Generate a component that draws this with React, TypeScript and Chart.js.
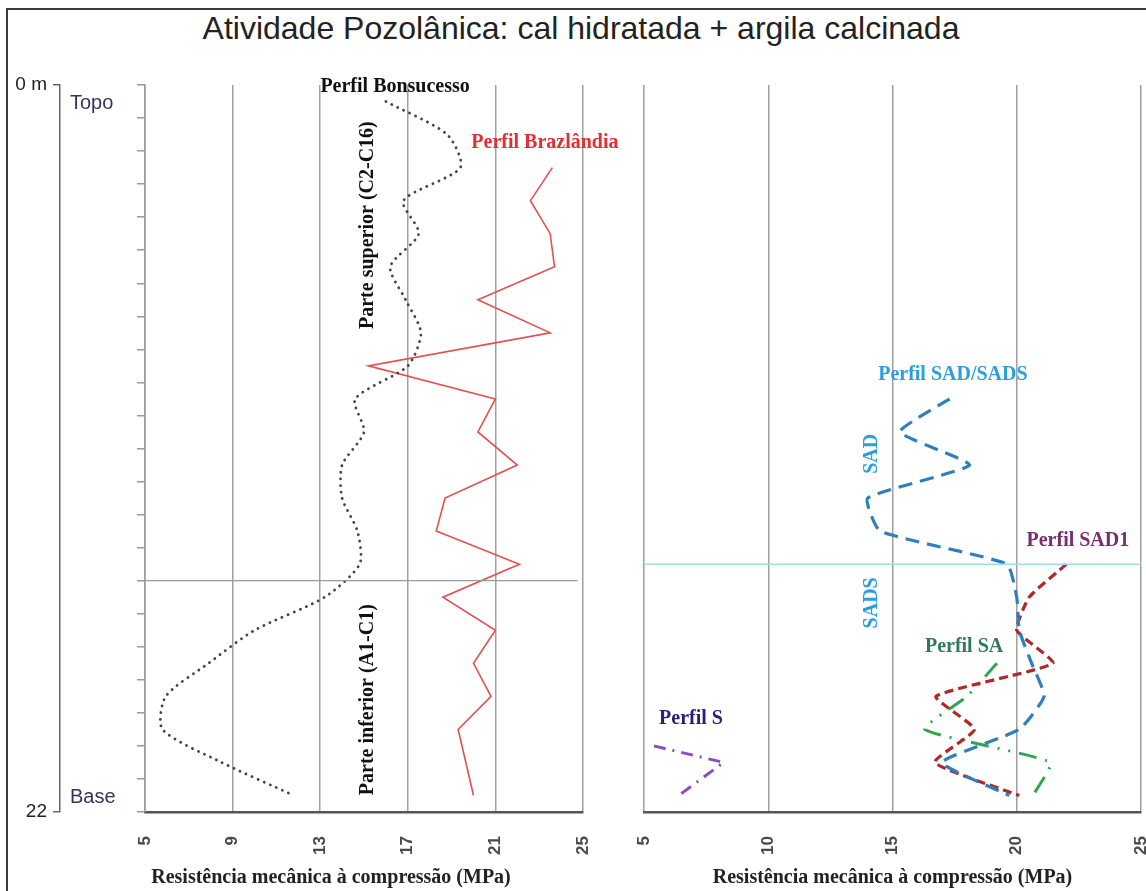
import React, { useEffect, useRef } from 'react';
import { Chart, registerables } from 'chart.js';

Chart.register(...registerables);

const TITLE = 'Atividade Pozolânica: cal hidratada + argila calcinada';
const X_TITLE = 'Resistência mecânica à compressão (MPa)';

// ---- Left panel: depth (m) vs strength (MPa)
const bonsucessoDepth = [0.5, 1.5, 2.5, 3.5, 4.5, 5.5, 6.5, 7.5, 8.5, 9.5, 10.5, 11.5, 12.5, 13.5, 14.5, 15.5, 16.5, 17.5, 18.5, 19.5, 20.5, 21.5];
const bonsucessoMPa = [16.0, 18.8, 19.4, 16.8, 17.5, 16.2, 16.9, 17.6, 17.0, 14.6, 15.0, 14.0, 14.0, 14.7, 14.8, 13.2, 10.0, 7.9, 5.95, 5.8, 8.5, 11.8];

const brazlandiaDepth = [2.5, 3.5, 4.5, 5.5, 6.5, 7.5, 8.5, 9.5, 10.5, 11.5, 12.5, 13.5, 14.5, 15.5, 16.5, 17.5, 18.5, 19.5, 21.5];
const brazlandiaMPa = [23.6, 22.6, 23.5, 23.7, 20.2, 23.5, 15.2, 21.0, 20.2, 22.0, 18.7, 18.3, 22.1, 18.6, 21.0, 20.0, 20.8, 19.3, 20.0];

const leftBoundaryDepth = [15.0, 15.0];
const leftBoundaryMPa = [5, 24.75];

// ---- Right panel
const sadDepth = [9.5, 10.5, 11.5, 12.5, 13.5, 14.5, 15.5, 16.5, 17.5, 18.5, 19.5, 20.5, 21.5];
const sadMPa = [17.3, 15.3, 18.1, 14.0, 14.5, 19.6, 20.0, 20.1, 20.6, 21.1, 20.1, 17.0, 19.7];

const sad1Depth = [14.5, 15.5, 16.5, 17.5, 18.5, 19.5, 20.5, 21.5];
const sad1MPa = [22.0, 20.5, 20.0, 21.45, 16.75, 18.3, 16.7, 20.1];

const saDepth = [17.5, 18.5, 19.5, 20.5, 21.5];
const saMPa = [19.2, 18.0, 16.3, 21.35, 20.65];

const sDepth = [20.0, 20.5, 21.5];
const sMPa = [5.4, 8.2, 6.4];

const rightBoundaryDepth = [14.5, 14.5];
const rightBoundaryMPa = [5, 25];

const leftTicks = [5, 9, 13, 17, 21, 25];
const rightTicks = [5, 10, 15, 20, 25];
const depthTicks = [0, 22];

type Note = { text: string; x: number; y: number; color: string; size: number; rotate?: boolean };

const leftNotes: Note[] = [
  { text: 'Perfil Bonsucesso', x: 16.42, y: 0.06, color: '#111111', size: 20 },
  { text: 'Perfil Brazlândia', x: 23.26, y: 1.75, color: '#e03030', size: 20 },
  { text: 'Parte superior (C2-C16)', x: 15.18, y: 4.24, color: '#111111', size: 20, rotate: true },
  { text: 'Parte inferior (A1-C1)', x: 15.18, y: 18.6, color: '#111111', size: 20, rotate: true },
];

const rightNotes: Note[] = [
  { text: 'Perfil SAD/SADS', x: 17.43, y: 8.77, color: '#2a9ee0', size: 20 },
  { text: 'SAD', x: 14.18, y: 11.16, color: '#2a9ee0', size: 20, rotate: true },
  { text: 'SADS', x: 14.18, y: 15.67, color: '#2a9ee0', size: 20, rotate: true },
  { text: 'Perfil SAD1', x: 22.46, y: 13.8, color: '#7b2c6e', size: 20 },
  { text: 'Perfil SA', x: 17.88, y: 17.0, color: '#2b7b5c', size: 20 },
  { text: 'Perfil S', x: 6.89, y: 19.18, color: '#2a1f7a', size: 20 },
];

const pts = (vals: number[], depths: number[]) => vals.map((v, i) => ({ x: v, y: depths[i] }));

const SERIF = '"Liberation Serif", "Times New Roman", serif';
const SANS = '"Liberation Sans", Arial, sans-serif';

function notesPlugin(notes: Note[], extra?: (chart: any) => void) {
  return {
    id: 'notes',
    afterDraw(chart: any) {
      const { ctx, scales } = chart;
      notes.forEach((n) => {
        const px = scales.x.getPixelForValue(n.x);
        const py = scales.y.getPixelForValue(n.y);
        ctx.save();
        ctx.translate(px, py);
        if (n.rotate) ctx.rotate(-Math.PI / 2);
        ctx.font = `bold ${n.size}px ${SERIF}`;
        ctx.fillStyle = n.color;
        ctx.textAlign = 'center';
        ctx.textBaseline = 'middle';
        ctx.fillText(n.text, 0, 0);
        ctx.restore();
      });
      if (extra) extra(chart);
    },
  };
}

function xScale(ticks: number[], step: number, showTitle: boolean) {
  return {
    type: 'linear',
    min: ticks[0],
    max: ticks[ticks.length - 1],
    ticks: {
      stepSize: step,
      minRotation: 90,
      maxRotation: 90,
      padding: 24,
      color: '#4a4a4a',
      font: { family: SANS, size: 17, weight: 'bold' },
    },
    grid: {
      color: '#a0a0a0',
      lineWidth: 1.5,
      drawTicks: false,
    },
    border: { display: true, color: '#555', width: 2.5 },
    title: {
      display: showTitle,
      text: X_TITLE,
      color: '#222',
      font: { family: SERIF, size: 20, weight: 'bold' },
      padding: { top: 0, bottom: 1 },
    },
    afterFit: (s: any) => {
      s.height = 79;
    },
  };
}

function LeftPanel() {
  const ref = useRef<HTMLCanvasElement>(null);
  useEffect(() => {
    const chart = new Chart(ref.current as HTMLCanvasElement, {
      type: 'line',
      data: {
        datasets: [
          {
            label: 'Boundary',
            data: pts(leftBoundaryMPa, leftBoundaryDepth),
            borderColor: '#9a9a9a',
            borderWidth: 1.2,
            pointRadius: 0,
          },
          {
            label: 'Perfil Bonsucesso',
            data: pts(bonsucessoMPa, bonsucessoDepth),
            borderColor: '#444444',
            borderWidth: 2.8,
            borderDash: [0.1, 6.5],
            borderCapStyle: 'round',
            tension: 0.25,
            pointRadius: 0,
          },
          {
            label: 'Perfil Brazlândia',
            data: pts(brazlandiaMPa, brazlandiaDepth),
            borderColor: '#e2504f',
            borderWidth: 1.6,
            tension: 0,
            pointRadius: 0,
          },
        ],
      },
      options: {
        animation: false,
        responsive: false,
        layout: { padding: { left: 0, right: 77, top: 85, bottom: 0 } },
        plugins: { legend: { display: false }, tooltip: { enabled: false } },
        scales: {
          x: xScale(leftTicks, 4, false) as any,
          y: {
            type: 'linear',
            position: 'left',
            weight: 0,
            reverse: true,
            min: 0,
            max: 22,
            ticks: { stepSize: 1, callback: () => '' },
            grid: { drawOnChartArea: false, drawTicks: true, tickLength: 8, color: '#9a9a9a', lineWidth: 1.5 },
            border: { display: true, color: '#9a9a9a', width: 1.5 },
            afterFit: (s: any) => {
              s.width = 85;
            },
          },
          depth: {
            type: 'linear',
            position: 'left',
            weight: 1,
            reverse: true,
            min: depthTicks[0],
            max: depthTicks[1],
            afterBuildTicks: (s: any) => {
              s.ticks = depthTicks.map((v) => ({ value: v }));
            },
            ticks: {
              callback: (v: any) => (v === 0 ? '0 m' : String(v)),
              color: '#222',
              padding: 6,
              font: { family: SANS, size: 19 },
            },
            grid: { drawOnChartArea: false, drawTicks: true, tickLength: 7, color: '#666', lineWidth: 1.5 },
            border: { display: true, color: '#666', width: 1.5 },
            afterFit: (s: any) => {
              s.width = 60;
            },
          },
        },
      },
      plugins: [
        notesPlugin(leftNotes, (c: any) => {
          const ctx = c.ctx;
          const y = c.scales.y;
          ctx.save();
          ctx.font = `20px ${SANS}`;
          ctx.fillStyle = '#34345c';
          ctx.textAlign = 'left';
          ctx.textBaseline = 'middle';
          ctx.fillText('Topo', 70, y.getPixelForValue(0.55));
          ctx.fillText('Base', 70, y.getPixelForValue(21.55));
          // x-axis title of the left panel (placed left of the panel centre, as in the original)
          ctx.font = `bold 20px ${SERIF}`;
          ctx.fillStyle = '#222';
          ctx.textAlign = 'center';
          ctx.fillText(X_TITLE, 331, c.height - 13);
          ctx.restore();
        }) as any,
      ],
    } as any);
    return () => chart.destroy();
  }, []);
  return <canvas ref={ref} width={660} height={891} style={{ position: 'absolute', left: 0, top: 0 }} />;
}

function RightPanel() {
  const ref = useRef<HTMLCanvasElement>(null);
  useEffect(() => {
    const chart = new Chart(ref.current as HTMLCanvasElement, {
      type: 'line',
      data: {
        datasets: [
          {
            label: 'Boundary',
            data: pts(rightBoundaryMPa, rightBoundaryDepth),
            borderColor: '#a9d8ea',
            borderWidth: 1.5,
            pointRadius: 0,
          },
          {
            label: 'Perfil SAD/SADS',
            data: pts(sadMPa, sadDepth),
            borderColor: '#2f7fc0',
            borderWidth: 3.2,
            borderDash: [14, 8],
            tension: 0.15,
            pointRadius: 0,
          },
          {
            label: 'Perfil SAD1',
            data: pts(sad1MPa, sad1Depth),
            borderColor: '#b02828',
            borderWidth: 3.2,
            borderDash: [9, 5],
            tension: 0.15,
            pointRadius: 0,
          },
          {
            label: 'Perfil SA',
            data: pts(saMPa, saDepth),
            borderColor: '#2ea850',
            borderWidth: 3,
            borderDash: [18, 9, 2, 9, 2, 9],
            tension: 0.15,
            pointRadius: 0,
          },
          {
            label: 'Perfil S',
            data: pts(sMPa, sDepth),
            borderColor: '#8a4cc0',
            borderWidth: 3,
            borderDash: [12, 7, 2, 7],
            tension: 0,
            pointRadius: 0,
          },
        ],
      },
      options: {
        animation: false,
        responsive: false,
        layout: { padding: { left: 64, right: 59, top: 85, bottom: 0 } },
        plugins: { legend: { display: false }, tooltip: { enabled: false } },
        scales: {
          x: xScale(rightTicks, 5, true) as any,
          y: {
            type: 'linear',
            display: false,
            reverse: true,
            min: 0,
            max: 22,
          },
        },
      },
      plugins: [notesPlugin(rightNotes) as any],
    } as any);
    return () => chart.destroy();
  }, []);
  return <canvas ref={ref} width={620} height={891} style={{ position: 'absolute', left: 580, top: 0 }} />;
}

export default function App() {
  return (
    <div
      style={{
        position: 'fixed',
        left: 0,
        top: 0,
        width: 1146,
        height: 891,
        overflow: 'hidden',
        background: '#ffffff',
      }}
    >
      <div
        style={{
          position: 'absolute',
          left: 6,
          top: 8,
          width: 2000,
          height: 2000,
          borderLeft: '2px solid #3a3a3a',
          borderTop: '2px solid #3a3a3a',
        }}
      />
      <div
        style={{
          position: 'absolute',
          left: 0,
          top: 8,
          width: 1162,
          textAlign: 'center',
          fontFamily: SANS,
          fontSize: 32,
          lineHeight: '40px',
          color: '#222',
        }}
      >
        {TITLE}
      </div>
      <LeftPanel />
      <RightPanel />
    </div>
  );
}
